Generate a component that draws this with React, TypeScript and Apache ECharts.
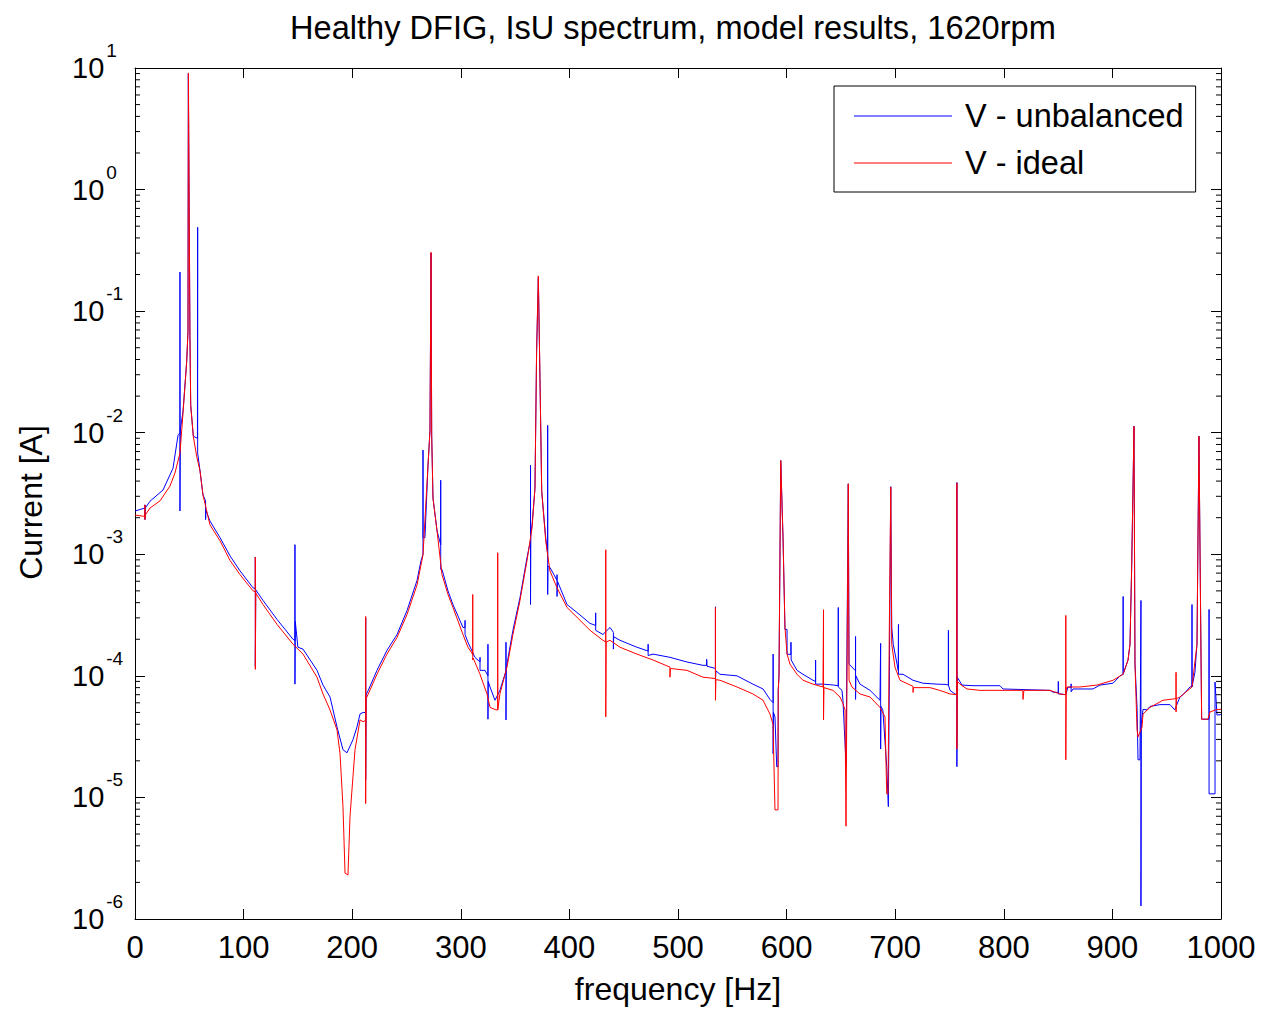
import React, { useEffect, useRef } from "react";
import * as echarts from "echarts";

const titleText = "Healthy DFIG, IsU spectrum, model results, 1620rpm";
const xName = "frequency [Hz]";
const yName = "Current [A]";
const seriesNames = ["V - unbalanced", "V - ideal"];
const seriesColors = ["#0000ff", "#ff0000"];
const xTicks = [0, 100, 200, 300, 400, 500, 600, 700, 800, 900, 1000];
const yDecades = [1e-6, 1e-5, 1e-4, 1e-3, 1e-2, 1e-1, 1, 10];
const minorTickValues: number[] = [
  2e-6, 3e-6, 4e-6, 5e-6, 6e-6, 7e-6, 8e-6, 9e-6,
  2e-5, 3e-5, 4e-5, 5e-5, 6e-5, 7e-5, 8e-5, 9e-5,
  2e-4, 3e-4, 4e-4, 5e-4, 6e-4, 7e-4, 8e-4, 9e-4,
  2e-3, 3e-3, 4e-3, 5e-3, 6e-3, 7e-3, 8e-3, 9e-3,
  2e-2, 3e-2, 4e-2, 5e-2, 6e-2, 7e-2, 8e-2, 9e-2,
  2e-1, 3e-1, 4e-1, 5e-1, 6e-1, 7e-1, 8e-1, 9e-1,
  2, 3, 4, 5, 6, 7, 8, 9,
];

// [frequency Hz, current A]
const unbalancedData: [number, number][] = [
  [0, 2.27e-3], [9, 2.4e-3], [9.2, 2.55e-3], [9.2, 1.93e-3], [9.4, 2.4e-3],
  [13.8, 2.73e-3], [25.8, 3.38e-3], [35, 5.1e-3], [39.6, 9.5e-3],
  [41.4, 0.01], [41.4, 0.21], [41.4, 2.27e-3], [41.7, 0.0105],
  [44.2, 0.015], [47.6, 0.0385], [48.8, 0.0676], [49.1, 9.0],
  [50.6, 0.0628], [51.3, 0.0168], [53.7, 9.35e-3],
  [57.5, 9.0e-3], [57.7, 0.49], [57.7, 6.8e-3],
  [59.9, 4.83e-3], [62.6, 3.08e-3],
  [65, 2.75e-3], [65, 1.93e-3], [65.3, 2.3e-3],
  [69, 1.88e-3], [78.3, 1.37e-3], [87.5, 9.7e-4], [96.7, 7.3e-4], [108.7, 5.3e-4],
  [110.8, 5.2e-4], [110.8, 9.5e-4], [110.8, 1.2e-4], [111.2, 5.1e-4],
  [117.9, 4.17e-4], [130.8, 2.91e-4], [145.5, 2.0e-4],
  [147.3, 1.95e-4], [147.3, 1.2e-3], [147.3, 8.55e-5], [147.6, 2.8e-4],
  [150, 1.72e-4], [154.7, 1.66e-4], [167.6, 1.11e-4], [173.1, 8.4e-5],
  [179.6, 6.7e-5], [186, 3.8e-5], [191.5, 2.47e-5], [195.2, 2.33e-5],
  [200.7, 2.98e-5], [204.4, 3.8e-5], [207.2, 4.85e-5], [210, 5.0e-5],
  [212.4, 5.0e-5], [212.4, 3.0e-4], [212.4, 1.4e-5], [212.8, 7e-5],
  [214.8, 7.6e-5], [222.8, 1.11e-4], [232, 1.62e-4], [241.3, 2.19e-4],
  [250.5, 3.45e-4], [259.7, 6.1e-4], [263.4, 8.9e-4],
  [265.2, 1.0e-3], [265.2, 7.2e-3], [265.2, 1.37e-3], [267, 1.37e-3],
  [269.8, 5.4e-3], [271.6, 0.0103], [272.6, 0.3], [273.2, 9.5e-3],
  [274.4, 2.9e-3], [278.1, 1.56e-3],
  [281.5, 1.2e-3], [281.5, 4.07e-3], [281.5, 7.5e-4],
  [282.7, 7.5e-4], [288.2, 5.0e-4], [292.8, 3.86e-4], [302, 2.5e-4],
  [303.9, 2.5e-4], [303.9, 2.86e-4], [303.9, 2.19e-4],
  [306.6, 1.89e-4], [313, 1.42e-4],
  [317.7, 1.3e-4], [317.7, 1.42e-4], [317.7, 1.11e-4],
  [322.3, 1.11e-4],
  [325, 1.0e-4], [325, 1.82e-4], [325, 4.4e-5], [325.3, 9e-5],
  [326.9, 8.1e-5], [331.5, 6.3e-5], [336, 7.6e-5],
  [341.6, 1.1e-4], [341.6, 1.89e-4], [341.6, 4.34e-5], [341.9, 1.15e-4],
  [342.5, 1.25e-4], [348, 2.37e-4], [354.5, 4.4e-4], [361, 9.4e-4],
  [364.2, 1.3e-3], [364.2, 5.4e-3], [364.2, 3.86e-4], [364.5, 1.5e-3],
  [365.6, 1.75e-3], [368.3, 3.5e-3], [369.8, 0.0464], [371.4, 0.19],
  [372.9, 0.0279], [374.5, 3.3e-3], [378.2, 1.37e-3],
  [380, 1.0e-3], [380, 0.0115], [380, 4.67e-4], [380.3, 8e-4],
  [382.1, 7.8e-4],
  [388.6, 6.1e-4], [388.6, 6.8e-4], [388.6, 4.5e-4], [389, 6.0e-4],
  [397.8, 3.86e-4], [407, 3.32e-4], [419, 2.7e-4],
  [424.2, 2.6e-4], [424.2, 3.3e-4], [424.2, 2.37e-4],
  [430.9, 2.19e-4], [437.4, 2.5e-4],
  [440.5, 2.28e-4], [440.5, 1.66e-4], [440.8, 2.1e-4],
  [446.6, 1.96e-4], [462.2, 1.72e-4],
  [472.5, 1.6e-4], [472.5, 1.82e-4], [472.5, 1.47e-4],
  [477, 1.51e-4], [492.6, 1.42e-4], [508.3, 1.3e-4], [523, 1.22e-4],
  [526.4, 1.22e-4], [526.4, 1.37e-4], [526.7, 1.2e-4],
  [534.5, 1.15e-4], [534.5, 3.7e-4], [534.5, 9e-5], [534.9, 1.1e-4],
  [538.7, 1.03e-4], [554.3, 1.0e-4], [569, 8.55e-5], [578.3, 7.8e-5], [584.7, 6.4e-5],
  [587.6, 6.0e-5], [587.6, 1.51e-4], [587.6, 2.29e-5], [587.9, 5e-5],
  [589.3, 4.6e-5], [590.9, 1.79e-5], [592.1, 1.79e-5], [592.3, 7.6e-5], [593, 1.0e-4],
  [594.6, 5.9e-3], [596.7, 1.37e-3], [598.5, 2.41e-4],
  [600.4, 2.41e-4], [600.4, 1.51e-4],
  [604, 1.5e-4], [604, 1.89e-4], [604.2, 1.35e-4],
  [609.6, 1.11e-4], [615.1, 1.03e-4], [624.3, 9.2e-5],
  [626.7, 9.0e-5], [626.7, 1.35e-4], [626.7, 8.55e-5],
  [633.5, 8.55e-5], [643.5, 8.4e-5],
  [647.6, 8.3e-5], [647.6, 3.65e-4], [647.6, 8.1e-5],
  [651, 7.6e-5], [651.9, 6.3e-5], [654.7, 1.89e-5], [656.8, 3.8e-3],
  [657.5, 1.25e-4], [660.2, 1.18e-4],
  [663.5, 1.1e-4], [663.5, 2.11e-4], [663.5, 6.4e-5], [663.8, 1.0e-4],
  [667.6, 8.55e-5], [676.8, 7.6e-5], [686, 6.3e-5],
  [686.6, 6.3e-5], [686.6, 1.85e-4], [686.6, 2.5e-5], [686.9, 5.6e-5],
  [688.6, 5.25e-5], [692.2, 1.79e-5], [693.7, 8.4e-6], [694.8, 1.5e-4],
  [695.9, 3.6e-3], [696.8, 2.5e-4], [698.2, 1.82e-4], [702.8, 1.11e-4],
  [703, 1.11e-4], [703, 2.65e-4], [703, 1.03e-4],
  [707.2, 1.03e-4], [716.4, 9.2e-5], [725.6, 8.7e-5], [738.5, 8.55e-5], [746.8, 8.5e-5],
  [749, 8.4e-5], [749, 2.37e-4], [749, 8.4e-5],
  [750.5, 7.6e-5], [755, 7.1e-5],
  [756.8, 7.0e-5], [756.8, 3.9e-3], [756.8, 1.79e-5], [757.2, 9.75e-5],
  [761.5, 8.4e-5], [771.6, 8.3e-5], [796.5, 8.3e-5], [799.3, 7.8e-5],
  [842.5, 7.6e-5], [845.3, 7.35e-5],
  [850.2, 7.3e-5], [850.2, 9.0e-5], [850.2, 7.1e-5],
  [851.7, 7.1e-5], [857.1, 7.0e-5], [859.1, 8.1e-5],
  [862, 8.0e-5], [862, 8.6e-5], [862, 7.4e-5],
  [863.7, 7.8e-5], [882.1, 7.8e-5], [888.6, 8.4e-5], [900.6, 8.7e-5], [907, 1.0e-4],
  [909.9, 1.03e-4], [909.9, 4.5e-4], [909.9, 1.03e-4],
  [914.4, 1.35e-4], [916.2, 1.82e-4], [917.8, 8.2e-4], [919.9, 0.0113],
  [920.8, 1.25e-4], [922.7, 5.5e-5], [923.6, 2.04e-5], [925.4, 2.04e-5],
  [926.3, 4.17e-4], [926.3, 1.28e-6], [926.6, 4e-5],
  [928.2, 5.3e-5], [931.9, 5.25e-5], [934.6, 5.6e-5], [943.8, 5.8e-5], [953, 5.8e-5],
  [957.4, 5.25e-5], [962.2, 6.7e-5], [965, 7.0e-5], [971.5, 8.1e-5],
  [973.3, 8.2e-5], [973.3, 3.86e-4], [973.3, 8.1e-5],
  [976, 1.07e-4], [977.9, 1.82e-4], [979.7, 9.35e-3], [981.6, 1.42e-4],
  [982.2, 4.4e-5], [988, 4.4e-5],
  [989, 4.4e-5], [989, 3.52e-4], [989, 1.07e-5],
  [994.5, 1.07e-5], [994.5, 8.9e-5], [996.3, 4.76e-5], [1000, 4.8e-5],
];

const idealData: [number, number][] = [
  [0, 2.1e-3], [9, 2.05e-3], [9.2, 2.55e-3], [9.2, 1.93e-3], [9.4, 2.1e-3],
  [13.8, 2.4e-3], [23, 2.75e-3], [32.2, 3.64e-3], [36.8, 4.66e-3], [41.4, 6.8e-3],
  [44.2, 0.0144], [47.6, 0.0385], [48.8, 0.0676], [49.2, 9.1],
  [50.6, 0.0628], [51.3, 0.0168], [53.7, 9.35e-3], [56.8, 6.4e-3], [59.9, 4.83e-3],
  [62.6, 3.08e-3], [69, 1.75e-3], [78.3, 1.29e-3], [87.5, 8.9e-4], [96.7, 6.8e-4],
  [108.7, 5.0e-4],
  [110.8, 4.9e-4], [110.8, 9.5e-4], [110.8, 1.13e-4], [111.2, 4.8e-4],
  [117.9, 3.86e-4], [130.8, 2.65e-4], [145.5, 1.82e-4], [154.7, 1.51e-4],
  [167.6, 9.75e-5], [173.1, 7.1e-5], [179.6, 5.24e-5], [186, 3.6e-5],
  [188.8, 2.29e-5], [191.5, 8.4e-6], [193.4, 2.38e-6], [196.1, 2.3e-6],
  [198, 7.0e-6], [200.7, 1.48e-5], [202.6, 2.47e-5], [207.2, 4.34e-5], [210, 4.2e-5],
  [212.4, 4.3e-5], [212.4, 3.08e-4], [212.4, 8.9e-6], [212.8, 6.5e-5],
  [214.8, 7.1e-5], [222.8, 1.03e-4], [232, 1.51e-4], [241.3, 2.07e-4],
  [250.5, 3.2e-4], [259.7, 5.6e-4], [265.2, 9.9e-4], [269.8, 5.4e-3],
  [271.6, 0.0103], [272.6, 0.305], [273.2, 9.5e-3], [274.4, 2.9e-3],
  [278.1, 1.56e-3], [282.7, 6.8e-4], [288.2, 4.67e-4], [292.8, 3.65e-4],
  [302, 2.19e-4], [306.6, 1.72e-4],
  [311, 1.5e-4], [311, 4.67e-4], [311, 1.35e-4], [311.4, 1.4e-4],
  [317.7, 1.03e-4], [324.1, 7.1e-5], [326.9, 5.5e-5], [332.4, 5.25e-5],
  [334, 5.25e-5], [334, 1.03e-3], [334, 5.25e-5],
  [336, 7.1e-5], [342.5, 1.18e-4], [348, 2.19e-4], [354.5, 4.17e-4],
  [361, 8.9e-4], [365.6, 1.65e-3], [368.3, 3.5e-3], [369.8, 0.0464],
  [371.4, 0.195], [372.9, 0.0279], [374.5, 3.3e-3], [378.2, 1.29e-3],
  [382.1, 7.3e-4], [388.6, 5.3e-4], [397.8, 3.65e-4], [407, 3.03e-4],
  [419, 2.37e-4], [430.9, 1.96e-4],
  [433.5, 1.9e-4], [433.5, 1.09e-3], [433.5, 4.6e-5], [433.9, 1.9e-4],
  [437.4, 1.96e-4], [446.6, 1.72e-4], [462.2, 1.51e-4], [477, 1.35e-4],
  [492.6, 1.18e-4], [492.6, 9.75e-5], [493, 1.15e-4],
  [508.3, 1.11e-4], [523, 9.75e-5],
  [534.5, 9.5e-5], [534.5, 3.65e-4], [534.5, 6.3e-5], [534.9, 9.3e-5],
  [538.7, 9.2e-5], [554.3, 8.1e-5], [569, 7.1e-5], [578.3, 6.3e-5],
  [584.7, 4.85e-5], [587.5, 4.0e-5], [589.3, 7.9e-6], [592.1, 7.9e-6],
  [592.3, 7.6e-5], [593, 1.0e-4], [594.6, 5.9e-3], [596.7, 1.37e-3],
  [598.5, 2.5e-4], [600.4, 1.51e-4], [603.1, 1.25e-4], [609.6, 1.03e-4],
  [615.1, 9.2e-5], [624.3, 8.55e-5], [633.5, 8.1e-5],
  [634, 8.1e-5], [634, 3.5e-4], [634, 4.34e-5], [634.4, 8.0e-5],
  [642.7, 7.6e-5], [649.2, 6.7e-5], [651.9, 5.9e-5], [653.8, 5.25e-5],
  [654.7, 5.8e-6], [656.8, 3.8e-3], [657.5, 9.2e-5], [660.2, 8.1e-5],
  [667.6, 7.1e-5], [676.8, 6.7e-5], [686, 5.5e-5], [690.6, 4.6e-5],
  [692.2, 1.07e-5], [693.4, 1.07e-5], [694.5, 2.0e-4], [695.9, 3.57e-3],
  [696.8, 1.82e-4], [699.8, 1.18e-4], [704.4, 9.2e-5],
  [716.4, 8.2e-5], [716.5, 7.3e-5], [716.7, 8.0e-5],
  [732, 8.0e-5], [741, 7.6e-5], [750.5, 7.1e-5],
  [756.8, 7.0e-5], [756.8, 3.85e-3], [756.8, 2.5e-5], [757.2, 9.0e-5],
  [759.7, 8.55e-5], [766.1, 7.8e-5], [778, 7.6e-5], [817.5, 7.6e-5],
  [817.7, 6.4e-5], [818.5, 7.6e-5], [842.5, 7.6e-5], [851.7, 7.1e-5],
  [857.1, 7.0e-5], [857.1, 3.14e-4], [857.1, 2.04e-5], [857.5, 8.0e-5],
  [859.1, 8.1e-5], [870, 8.1e-5], [885.8, 8.4e-5], [900.6, 9.2e-5],
  [909.8, 1.03e-4], [914.4, 1.35e-4], [916.2, 1.82e-4], [917.8, 8.2e-4],
  [919.9, 0.0113], [920.8, 1.25e-4], [922.7, 3.6e-5], [923.6, 3.15e-5],
  [927.3, 3.8e-5], [928.2, 4.85e-5], [934.6, 5.5e-5], [946.6, 6.3e-5], [953, 6.4e-5],
  [958.6, 6.5e-5], [958.6, 1.07e-4], [958.6, 5.05e-5], [959, 6.5e-5],
  [962.2, 6.7e-5], [973.3, 8.1e-5], [977.9, 1.82e-4], [979.7, 9.35e-3],
  [981.6, 1.42e-4], [982.2, 4.4e-5], [988, 4.4e-5], [989.9, 5.05e-5],
  [996.3, 5.3e-5], [1000, 5.3e-5],
];

const FONT = "'Liberation Sans', Arial, Helvetica, sans-serif";

export default function App() {
  const ref = useRef<HTMLDivElement>(null);

  useEffect(() => {
    if (!ref.current) return;
    const chart = echarts.init(ref.current, undefined, { renderer: "svg" });
    const TICK = "#000";
    const baseX = {
      type: "value" as const,
      min: xTicks[0],
      max: xTicks[xTicks.length - 1],
      interval: 100,
      splitLine: { show: false },
      axisLine: { show: true, onZero: false, lineStyle: { color: "#000", width: 1 } },
      axisTick: { show: true, inside: true, length: 10, lineStyle: { color: TICK } },
    };
    const baseY = {
      type: "log" as const,
      logBase: 10,
      min: yDecades[0],
      max: yDecades[yDecades.length - 1],
      interval: 1,
      splitLine: { show: false },
      minorTick: { show: false },
      axisLine: { show: true, onZero: false, lineStyle: { color: "#000", width: 1 } },
      axisTick: { show: true, inside: true, length: 10, lineStyle: { color: TICK } },
    };
    chart.setOption({
      animation: false,
      backgroundColor: "#fff",
      textStyle: { fontFamily: FONT },
      title: {
        text: titleText,
        left: 290,
        top: 11,
        padding: 0,
        textStyle: { fontFamily: FONT, fontSize: 32.6, fontWeight: "normal", color: "#000" },
      },
      legend: {
        data: seriesNames.map((n, i) => ({
          name: n,
          icon: "rect",
          itemStyle: { color: seriesColors[i], borderWidth: 0, opacity: 1 },
        })),
        orient: "vertical",
        left: 834,
        top: 86,
        padding: [13, 12, 12, 20],
        itemGap: 13,
        itemWidth: 98,
        itemHeight: 1,
        borderColor: "#000",
        borderWidth: 1,
        backgroundColor: "#fff",
        selectedMode: false,
        textStyle: { fontFamily: FONT, fontSize: 32.5, color: "#000", lineHeight: 34, padding: [0, 0, 0, 8] },
      },
      grid: { left: 135, right: 42, top: 68, bottom: 87 },
      xAxis: [
        {
          ...baseX,
          position: "bottom",
          name: xName,
          nameLocation: "middle",
          nameGap: 54,
          nameTextStyle: { fontFamily: FONT, fontSize: 32, color: "#000" },
          axisLabel: {
            show: true,
            fontFamily: FONT,
            fontSize: 31,
            color: "#000",
            margin: 13,
            formatter: (v: number) => String(v),
          },
        },
        { ...baseX, position: "top", axisLabel: { show: false } },
      ],
      yAxis: [
        {
          ...baseY,
          position: "left",
          name: yName,
          nameLocation: "middle",
          nameGap: 88,
          nameRotate: 90,
          nameTextStyle: { fontFamily: FONT, fontSize: 32, color: "#000", padding: [0, 18, 0, 0] },
          axisLabel: {
            show: true,
            margin: 63,
            align: "left",
            color: "#000",
            formatter: (v: number) => {
              const e = Math.round(Math.log10(v));
              return `{b|10}{s|${e}}`;
            },
            rich: {
              b: { fontFamily: FONT, fontSize: 29, color: "#000", lineHeight: 54 },
              s: { fontFamily: FONT, fontSize: 19, color: "#000", lineHeight: 13, verticalAlign: "top", padding: [0, 0, 0, 2] },
            },
          },
        },
        { ...baseY, position: "right", axisLabel: { show: false } },
      ],
      series: [
        {
          name: seriesNames[0],
          type: "line",
          data: unbalancedData,
          xAxisIndex: 0,
          yAxisIndex: 0,
          showSymbol: false,
          symbol: "none",
          itemStyle: { color: seriesColors[0] },
          lineStyle: { color: seriesColors[0], width: 1 },
          z: 3,
        },
        {
          name: seriesNames[1],
          type: "line",
          data: idealData,
          xAxisIndex: 0,
          yAxisIndex: 0,
          showSymbol: false,
          symbol: "none",
          itemStyle: { color: seriesColors[1] },
          lineStyle: { color: seriesColors[1], width: 1 },
          z: 4,
        },
        {
          name: "minorTicks",
          type: "custom",
          xAxisIndex: 0,
          yAxisIndex: 0,
          silent: true,
          clip: false,
          z: 5,
          data: minorTickValues.map((v) => [xTicks[0], v]),
          renderItem: (params: any, api: any) => {
            const v = api.value(1);
            const l = api.coord([xTicks[0], v]);
            const r = api.coord([xTicks[xTicks.length - 1], v]);
            return {
              type: "group",
              children: [
                { type: "line", shape: { x1: l[0], y1: l[1], x2: l[0] + 5, y2: l[1] }, style: { stroke: TICK, lineWidth: 1 } },
                { type: "line", shape: { x1: r[0], y1: r[1], x2: r[0] - 5, y2: r[1] }, style: { stroke: TICK, lineWidth: 1 } },
              ],
            };
          },
        },
      ],
    } as any);
    return () => chart.dispose();
  }, []);

  return (
    <div
      ref={ref}
      style={{ position: "absolute", left: 0, top: 0, width: 1263, height: 1010, background: "#fff" }}
    />
  );
}
